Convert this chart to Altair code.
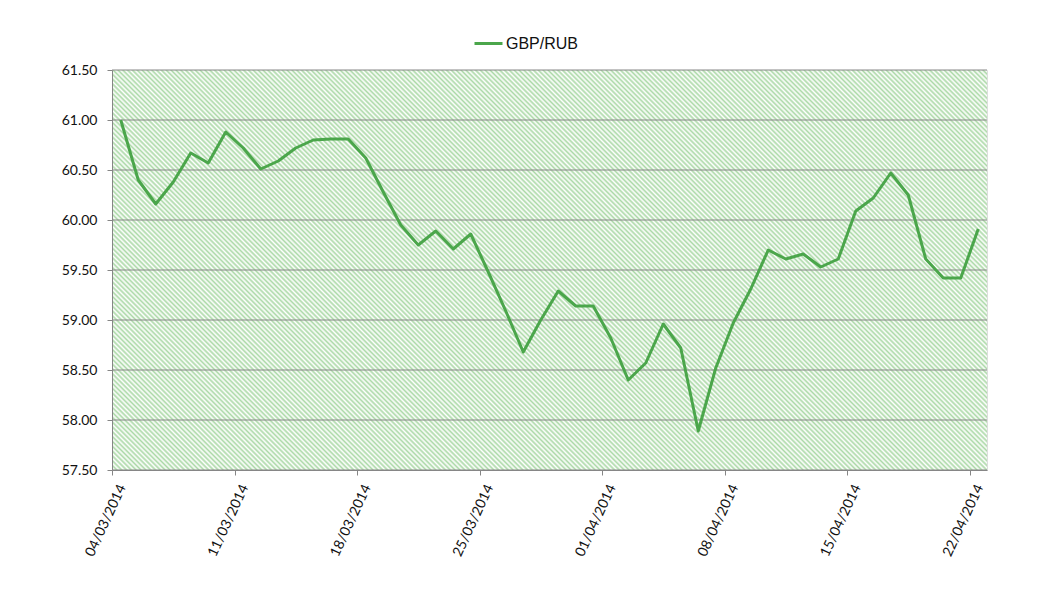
import altair as alt
import pandas as pd

# ---- data ----
dates = [d.strftime("%Y-%m-%d") for d in pd.date_range("2014-03-04", "2014-04-22", freq="D")]
rates = [
    61.00, 60.40, 60.16, 60.38, 60.67, 60.57, 60.88, 60.72, 60.51, 60.59,
    60.72, 60.80, 60.81, 60.81, 60.62, 60.28, 59.95, 59.75, 59.89, 59.71,
    59.86, 59.48, 59.09, 58.68, 59.00, 59.29, 59.14, 59.14, 58.82, 58.40,
    58.57, 58.96, 58.72, 57.89, 58.52, 58.97, 59.31, 59.70, 59.61, 59.66,
    59.53, 59.61, 60.09, 60.22, 60.47, 60.25, 59.61, 59.42, 59.42, 59.91,
]
series_name = "GBP/RUB"
tick_dates = ["2014-03-04", "2014-03-11", "2014-03-18", "2014-03-25",
              "2014-04-01", "2014-04-08", "2014-04-15", "2014-04-22"]
y_ticks = [57.5, 58.0, 58.5, 59.0, 59.5, 60.0, 60.5, 61.0, 61.5]
domain_dates = ["2014-03-04", "2014-04-23"]


def ms(s):
    return int(pd.Timestamp(s, tz="UTC").value // 10**6)


df = pd.DataFrame({
    "date": [d + "T12:00:00Z" for d in dates],
    "rate": rates,
    "series": series_name,
})
grid_df = pd.DataFrame({"v": y_ticks})

W, H = 875, 400
LINE_COLOR = "#4ba64b"
GRID_COLOR = "#868686"
TEXT_COLOR = "#111111"

# ---- diagonal hatch background (style only, soft triangle wave) ----
diag = (W + H) / (2 ** 0.5)
period = 4 / (2 ** 0.5)
n = int(diag / period) + 1
stops = []
hatch = "#abd9a7"
for k in range(n):
    stops += [
        alt.GradientStop(offset=k / n, color=hatch),
        alt.GradientStop(offset=(k + 0.5) / n, color="#ffffff"),
    ]
stops.append(alt.GradientStop(offset=1, color=hatch))
s = 1 + H / W
grad = alt.LinearGradient(
    gradient="linear", stops=stops,
    x1=0, y1=1, x2=s, y2=1 - s * H / W,
)

x_scale = alt.Scale(type="utc", domain=[ms(d) for d in domain_dates], nice=False)
y_scale = alt.Scale(domain=[y_ticks[0], y_ticks[-1]], nice=False, zero=False)

y_axis = alt.Axis(
    values=y_ticks, format=".2f", title=None, grid=False,
    domainColor=GRID_COLOR, tickColor=GRID_COLOR, tickSize=5,
    labelFont="Lato", labelFontSize=14, labelColor=TEXT_COLOR,
    labelPadding=10, zindex=1,
)
x_axis = alt.Axis(
    values=[ms(d) for d in tick_dates],
    labelExpr="utcFormat(datum.value, '%d/%m/%Y')",
    title=None, grid=False,
    domainColor=GRID_COLOR, tickColor=GRID_COLOR, tickSize=5,
    labelFont="Lato", labelFontSize=14, labelColor=TEXT_COLOR,
    labelAngle=295, labelAlign="right", labelBaseline="middle",
    labelPadding=10, labelOffset=10, zindex=1, labelOverlap=False,
)

bg = alt.Chart(alt.Data(values=[{}])).mark_rect(fill=grad).encode(
    x=alt.value(0), x2=alt.value(W), y=alt.value(0), y2=alt.value(H)
)

grid = alt.Chart(grid_df).mark_rule(color=GRID_COLOR, strokeWidth=1).encode(
    y=alt.Y("v:Q", scale=y_scale, axis=y_axis)
)

line = alt.Chart(df).mark_line(strokeWidth=3, strokeJoin="round").encode(
    x=alt.X("date:T", scale=x_scale, axis=x_axis),
    y=alt.Y("rate:Q", scale=y_scale, axis=y_axis),
    color=alt.Color(
        "series:N",
        scale=alt.Scale(range=[LINE_COLOR]),
        legend=alt.Legend(
            orient="none", legendX=361, legendY=-42, title=None,
            symbolType="stroke", symbolSize=784, symbolStrokeWidth=3,
            labelFont="Liberation Sans", labelFontSize=16,
            labelColor=TEXT_COLOR, labelOffset=2,
        ),
    ),
)

chart = alt.layer(bg, grid, line).properties(
    width=W, height=H,
    autosize=alt.AutoSizeParams(type="none"),
    padding={"left": 104, "top": 62, "right": 60, "bottom": 112},
).configure_view(stroke=None).configure(background="white")

chart.save("out.html", embed_options={"renderer": "svg", "actions": False})
